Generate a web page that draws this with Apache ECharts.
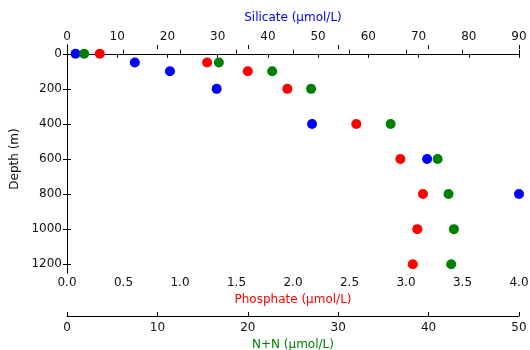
<!DOCTYPE html>
<html><head><meta charset="utf-8">
<script src="https://cdn.jsdelivr.net/npm/echarts@6/dist/echarts.min.js"></script>
<style>html,body{margin:0;padding:0;background:#fff}#c{width:530px;height:350px}</style>
</head><body><div id="c"></div>
<script>
const depths = [0, 50, 100, 200, 400, 600, 800, 1000, 1200];
const silicateDepths = [0, 50, 100, 200, 400, 600, 800];
const silicate = [1.7, 13.5, 20.5, 29.8, 48.8, 71.7, 90];
const phosphate = [0.29, 1.24, 1.6, 1.95, 2.56, 2.95, 3.15, 3.1, 3.06];
const nitrate = [1.9, 16.8, 22.7, 27.0, 35.8, 41.0, 42.2, 42.8, 42.5];
const depthTicks = [0, 200, 400, 600, 800, 1000, 1200];

const FONT = 'DejaVu Sans';
const TXT = '#111';
const lineStyle = {color: '#000', width: 1};

function pairs(xs, ys){ return xs.map((x,i)=>[x, ys[i]]); }

const chart = echarts.init(document.getElementById('c'), null, {renderer:'canvas'});
chart.setOption({
  animation: false,
  grid: {left: 67, top: 45, width: 452, height: 228, containLabel: false, outerBoundsMode: 'none'},
  xAxis: [
    { type:'value', position:'bottom', min:0, max:4, interval:0.5,
      name:'Phosphate (µmol/L)', nameLocation:'middle', nameGap:20,
      nameTextStyle:{color:'#ff0000', fontFamily:FONT, fontSize:12},
      axisLine:{show:true, lineStyle}, axisTick:{show:true, inside:true, length:4, lineStyle},
      axisLabel:{margin:4, color:TXT, fontFamily:FONT, fontSize:12, formatter:v=>v.toFixed(1)},
      splitLine:{show:false} },
    { type:'value', position:'top', min:0, max:90, interval:10,
      name:'Silicate (µmol/L)', nameLocation:'middle', nameGap:21,
      nameTextStyle:{color:'#0000ff', fontFamily:FONT, fontSize:12},
      axisLine:{show:true, lineStyle}, axisTick:{show:true, inside:true, length:4, lineStyle},
      axisLabel:{margin:2, color:TXT, fontFamily:FONT, fontSize:12, formatter:v=>String(v)},
      splitLine:{show:false} },
    { type:'value', position:'bottom', offset:43, min:0, max:50, interval:10,
      name:'N+N (µmol/L)', nameLocation:'middle', nameGap:17,
      nameTextStyle:{color:'#008000', fontFamily:FONT, fontSize:12},
      axisLine:{show:true, lineStyle}, axisTick:{show:true, inside:true, length:4, lineStyle},
      axisLabel:{margin:6, color:TXT, fontFamily:FONT, fontSize:12, formatter:v=>String(v)},
      splitLine:{show:false} },
    { type:'value', position:'top', min:0, max:50, interval:10,
      axisLine:{show:false}, axisTick:{show:true, inside:true, length:4, lineStyle},
      axisLabel:{show:false}, splitLine:{show:false} }
  ],
  yAxis: [
    { type:'value', position:'left', inverse:true, min:-50, max:1250,
      name:'Depth (m)', nameLocation:'middle', nameGap:42,
      nameTextStyle:{color:TXT, fontFamily:FONT, fontSize:12},
      axisLine:{show:true, lineStyle},
      axisTick:{show:true, inside:true, length:4, lineStyle, customValues:depthTicks},
      axisLabel:{margin:5, color:TXT, fontFamily:FONT, fontSize:12, customValues:depthTicks, formatter:v=>String(v)},
      splitLine:{show:false} },
    { type:'value', position:'right', inverse:true, min:-50, max:1250,
      axisLine:{show:true, lineStyle},
      axisTick:{show:true, inside:true, length:4, lineStyle, customValues:depthTicks},
      axisLabel:{show:false, customValues:depthTicks},
      splitLine:{show:false} }
  ],
  series: [
    { type:'scatter', name:'Phosphate', xAxisIndex:0, yAxisIndex:0, symbol:'circle', symbolSize:10,
      itemStyle:{color:'#ff0000', opacity:1}, data: pairs(phosphate, depths) },
    { type:'scatter', name:'Silicate', xAxisIndex:1, yAxisIndex:0, symbol:'circle', symbolSize:10,
      itemStyle:{color:'#0000ff', opacity:1}, data: pairs(silicate, silicateDepths) },
    { type:'scatter', name:'N+N', xAxisIndex:2, yAxisIndex:0, symbol:'circle', symbolSize:10,
      itemStyle:{color:'#008000', opacity:1}, data: pairs(nitrate, depths) }
  ]
});
</script>
</body></html>
